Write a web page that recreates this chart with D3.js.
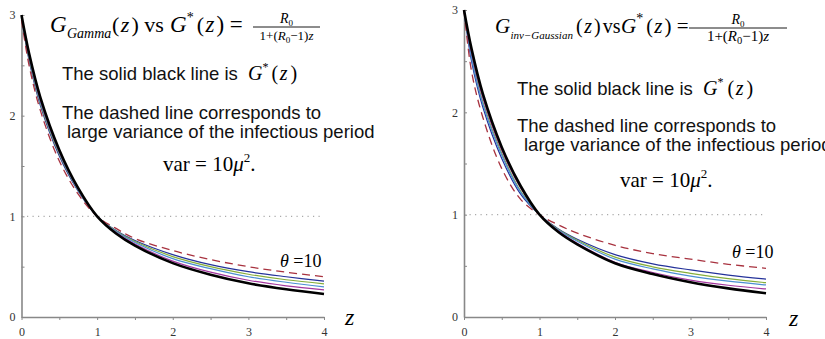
<!DOCTYPE html>
<html>
<head>
<meta charset="utf-8">
<script src="https://cdn.jsdelivr.net/npm/d3@7"></script>
<style>
  body { margin: 0; background: #fff; }
  svg { display: block; }
  .serif { font-family: "Liberation Serif", "Times New Roman", serif; }
  .sans { font-family: "Liberation Sans", Arial, sans-serif; }
  .axis path, .axis line { stroke: #888; }
  .axis path { stroke-width: 1.6; }
  .axis text { font-family: "Liberation Serif", serif; font-size: 12px; fill: #333; }
</style>
</head>
<body>
<div id="chart"></div>
<script>
const zGrid = [0, 0.1, 0.25, 0.5, 0.75, 1, 1.25, 1.5, 2, 2.5, 3, 3.5, 4];
const xTicks = [0, 0.5, 1, 1.5, 2, 2.5, 3, 3.5, 4];
const yTicks = [0, 0.5, 1, 1.5, 2, 2.5, 3];

// left panel: Gamma distributed infectious period
const gammaDashed  = [2.95, 2.50, 2.05, 1.55, 1.22, 1.0, 0.88, 0.78, 0.66, 0.57, 0.50, 0.445, 0.40];
const gammaBlue    = [2.97, 2.55, 2.10, 1.60, 1.25, 1.0, 0.86, 0.76, 0.62, 0.52, 0.45, 0.40, 0.357];
const gammaGreen   = [2.98, 2.57, 2.12, 1.62, 1.26, 1.0, 0.855, 0.75, 0.60, 0.50, 0.425, 0.37, 0.33];
const gammaCyan    = [2.98, 2.58, 2.13, 1.63, 1.26, 1.0, 0.85, 0.74, 0.58, 0.48, 0.40, 0.345, 0.30];
const gammaMagenta = [2.99, 2.60, 2.15, 1.64, 1.27, 1.0, 0.84, 0.725, 0.555, 0.445, 0.365, 0.31, 0.27];
const gammaBlack   = [3.0, 2.62, 2.18, 1.66, 1.28, 1.0, 0.83, 0.71, 0.535, 0.42, 0.335, 0.275, 0.228];

// right panel: inverse Gaussian infectious period
const invgDashed  = [3.0, 2.40, 1.95, 1.45, 1.15, 1.0, 0.90, 0.82, 0.70, 0.62, 0.565, 0.515, 0.476];
const invgBlue    = [3.0, 2.50, 2.05, 1.55, 1.20, 1.0, 0.86, 0.76, 0.61, 0.52, 0.46, 0.41, 0.371];
const invgGreen   = [3.0, 2.55, 2.10, 1.60, 1.23, 1.0, 0.855, 0.75, 0.585, 0.49, 0.427, 0.375, 0.335];
const invgCyan    = [3.0, 2.53, 2.08, 1.58, 1.22, 1.0, 0.85, 0.74, 0.565, 0.47, 0.40, 0.35, 0.313];
const invgMagenta = [3.0, 2.58, 2.14, 1.63, 1.26, 1.0, 0.84, 0.72, 0.535, 0.435, 0.36, 0.31, 0.274];
const invgBlack   = [3.0, 2.62, 2.18, 1.66, 1.28, 1.0, 0.83, 0.71, 0.525, 0.42, 0.34, 0.28, 0.232];

const styles = {
  blue:    {color: "#24329a", width: 1.2},
  green:   {color: "#86ae3a", width: 1.2},
  cyan:    {color: "#4b8fd2", width: 1.2},
  magenta: {color: "#a3379f", width: 1.2},
  dashed:  {color: "#a8323f", width: 1.3, dash: "8,5"},
  black:   {color: "#000", width: 2.6}
};

const svg = d3.select("#chart").append("svg")
    .attr("width", 825)
    .attr("height", 339);

const panels = [
  {left: 21.5, right: 324, top: 15, bottom: 317,
   series: {blue: gammaBlue, green: gammaGreen, cyan: gammaCyan, magenta: gammaMagenta, dashed: gammaDashed, black: gammaBlack}},
  {left: 464, right: 766, top: 10, bottom: 317,
   series: {blue: invgBlue, green: invgGreen, cyan: invgCyan, magenta: invgMagenta, dashed: invgDashed, black: invgBlack}}
];

panels.forEach(p => {
  const x = d3.scaleLinear().domain([0, 4]).range([p.left, p.right]);
  const y = d3.scaleLinear().domain([0, 3]).range([p.bottom, p.top]);
  const g = svg.append("g");

  // dotted reference line at 1
  g.append("line")
      .attr("x1", x(0)).attr("x2", x(4))
      .attr("y1", y(1)).attr("y2", y(1))
      .attr("stroke", "#aaa")
      .attr("stroke-width", 1.2)
      .attr("stroke-dasharray", "1.2,4.3");

  g.append("g")
      .attr("class", "axis")
      .attr("transform", `translate(0,${p.bottom})`)
      .call(d3.axisBottom(x).tickValues(xTicks).tickSize(3).tickSizeOuter(0).tickPadding(7)
          .tickFormat(d => Number.isInteger(d) ? d : ""));

  g.append("g")
      .attr("class", "axis")
      .attr("transform", `translate(${p.left},0)`)
      .call(d3.axisLeft(y).tickValues(yTicks).tickSizeInner(-3).tickSizeOuter(0).tickPadding(6)
          .tickFormat(d => Number.isInteger(d) ? d : ""));

  const line = d3.line()
      .x((d, i) => x(zGrid[i]))
      .y(d => y(d))
      .curve(d3.curveCatmullRom.alpha(0.5));

  Object.keys(p.series).forEach(k => {
    const s = styles[k];
    g.append("path")
        .attr("d", line(p.series[k]))
        .attr("fill", "none")
        .attr("stroke", s.color)
        .attr("stroke-width", s.width)
        .attr("stroke-dasharray", s.dash || null)
        .attr("stroke-linejoin", "round");
  });
});

// one serif text element made of tspans: [text, italic, dx, dy, size]
function run(px, py, size, parts) {
  const t = svg.append("text").attr("class", "serif")
      .attr("x", px).attr("y", py).attr("font-size", size);
  parts.forEach(([s, it, dx, dy, fs]) => {
    t.append("tspan")
        .attr("font-style", it ? "italic" : null)
        .attr("dx", dx || null)
        .attr("dy", dy || null)
        .attr("font-size", fs || null)
        .text(s);
  });
  return t;
}

function fraction(cx, yLine, x0, x1, denomSize) {
  svg.append("line")
      .attr("x1", x0).attr("x2", x1)
      .attr("y1", yLine).attr("y2", yLine)
      .attr("stroke", "#000").attr("stroke-width", 0.9);
  run(cx, yLine - 4, 14, [["R", true], ["0", false, 0, 3, 9]]).attr("text-anchor", "middle");
  run(cx, yLine + 13, denomSize, [
    ["1+("], ["R", true], ["0", false, 0, 3, denomSize * 0.7],
    ["\u22121)", false, 0, -3], ["z", true]
  ]).attr("text-anchor", "middle");
}

// G_sub(z) vs G*(z) =  (positions of each block given explicitly)
function title(t) {
  run(t.g, t.y, t.size + 1, [["G", true]]);
  run(t.g + 17 * t.size / 22, t.y + 6, t.subSize, [[t.sub, true]]);
  run(t.paren, t.y, t.size, [["("], ["z", true, 1.5], [")", false, 2], [t.vs, false, t.vsGap]]);
  run(t.g2, t.y, t.size + 1, [["G", true], ["*", false, 0, -10, 14],
      ["(", false, 3, 10, t.size], ["z", true, 1.5], [")", false, 2], [" ="]]);
}

title({g: 50, y: 32, size: 22, sub: "Gamma", subSize: 14, paren: 112, vs: " vs", vsGap: 0, g2: 170});
fraction(286.5, 27, 253, 320, 13);
run(248, 80, 20, [["G", true], ["*", false, 0, -9, 12], ["(", false, 3, 9, 20], ["z", true, 1.5], [")", false, 3]]);

title({g: 495, y: 33, size: 20, sub: "inv\u2212Gaussian", subSize: 11, paren: 576, vs: "vs", vsGap: 2, g2: 621});
fraction(738, 28, 689, 787, 15);
run(703, 95, 20, [["G", true], ["*", false, 0, -9, 12], ["(", false, 4, 9, 20], ["z", true, 1.5], [")", false, 3]]);

// sans-serif explanatory lines
const notes = [
  [62, 80, "The solid black line is"],
  [62, 119, "The dashed line corresponds to"],
  [67, 138, "large variance of the infectious period"],
  [517, 95, "The solid black line is"],
  [517, 132, "The dashed line corresponds to"],
  [524, 151, "large variance of the infectious period"]
];
notes.forEach(([px, py, t]) => {
  svg.append("text").attr("class", "sans")
      .attr("x", px).attr("y", py)
      .attr("font-size", 18.5)
      .attr("fill", "#111")
      .text(t);
});

// var = 10 mu^2.
[[163, 171], [620, 187]].forEach(([px, py]) => {
  run(px, py, 21, [["var = 10"], ["\u03bc", true], ["2", false, 0, -9, 13], [".", false, 0, 9, 21]]);
});

// theta = 10 labels
[[280, 267], [732, 258]].forEach(([px, py]) => {
  run(px, py, 18, [["\u03b8", true], [" =10"]]);
});

// z axis labels
[[345, 325], [789, 326]].forEach(([px, py]) => {
  run(px, py, 24, [["z", true]]);
});
</script>
</body>
</html>
